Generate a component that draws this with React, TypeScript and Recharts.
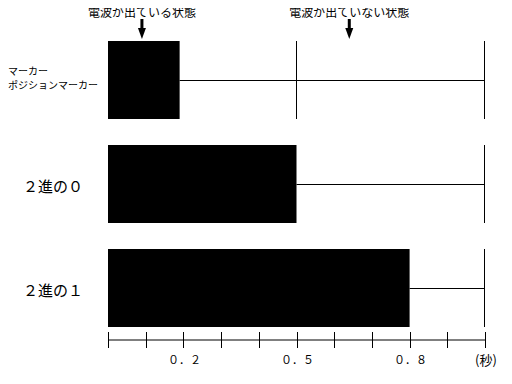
import { BarChart, Bar, XAxis, YAxis, ReferenceLine } from 'recharts';

const categories = ['マーカー\nポジションマーカー', '２進の０', '２進の１'];
const onTime = [0.19, 0.5, 0.8];
const offToHalf = [0.31, 0, 0];
const offToEnd = [0.5, 0.5, 0.2];

const xTicks = [0, 0.1, 0.2, 0.3, 0.4, 0.5, 0.6, 0.7, 0.8, 0.9, 1.0];
const labeledTicks = [0.2, 0.5, 0.8, 1.0];
const labeledTexts = ['０．２', '０．５', '０．８', '(秒)'];

const noteX = [0.09, 0.64];
const noteTexts = ['電波が出ている状態', '電波が出ていない状態'];

const FONT = '"Noto Sans CJK JP", "Noto Sans", sans-serif';

const data = categories.map((name, i) => ({
  name,
  on: onTime[i],
  offA: offToHalf[i],
  offB: offToEnd[i],
}));

// off period: thin midline + end marker
const OffShape = (props: any) => {
  const { x, y, width, height } = props;
  if (!width || width <= 0) return <g />;
  const cy = Math.round(y + height / 2) + 0.5;
  const ex = Math.round(x + width) - 0.5;
  return (
    <g>
      <line x1={x} y1={cy} x2={ex} y2={cy} stroke="#000" strokeWidth={1} />
      <line x1={ex} y1={y} x2={ex} y2={y + height} stroke="#000" strokeWidth={1} />
    </g>
  );
};

const makeArrow = (text: string) => (props: any) => {
  const x = props.x1;
  const top = Math.min(props.y1, props.y2);
  return (
    <g>
      <text x={x} y={top - 17} textAnchor="middle" dominantBaseline="central" fontSize={12} fontFamily={FONT} fill="#000">
        {text}
      </text>
      <rect x={x - 1.5} y={top - 9} width={3} height={10} fill="#000" />
      <polygon points={`${x - 4},${top} ${x + 4},${top} ${x},${top + 11}`} fill="#000" />
    </g>
  );
};

const CategoryTick = (props: any) => {
  const { x, y, payload } = props;
  const lines = String(payload.value).split('\n');
  if (lines.length > 1) {
    return (
      <text x={x - 100} y={y - 10.5} dominantBaseline="central" fontSize={10} fontFamily={FONT} fill="#000">
        {lines.map((l, i) => (
          <tspan key={i} x={x - 100} dy={i === 0 ? 0 : 14.8}>
            {l}
          </tspan>
        ))}
      </text>
    );
  }
  return (
    <text x={x - 55} y={y + 1} textAnchor="middle" dominantBaseline="central" fontSize={15} fontFamily={FONT} fill="#000">
      {lines[0]}
    </text>
  );
};

const TimeTick = (props: any) => {
  const { x, y, payload } = props;
  const idx = labeledTicks.findIndex((t) => Math.abs(t - payload.value) < 1e-9);
  const px = Math.round(x) + 0.5;
  return (
    <g>
      <line x1={px} y1={y - 8} x2={px} y2={y + 8} stroke="#000" strokeWidth={1} />
      {idx >= 0 && (
        <text x={x + 1} y={y + 19} textAnchor="middle" dominantBaseline="central" fontSize={idx === 3 ? 13 : 11} fontFamily={FONT} fill="#000">
          {labeledTexts[idx]}
        </text>
      )}
    </g>
  );
};

export default function App() {
  return (
    <div style={{ marginTop: -8 }}>
      <BarChart
        width={504}
        height={384}
        data={data}
        layout="vertical"
        margin={{ top: 28, right: 27, bottom: 0, left: 0 }}
        barCategoryGap={0}
      >
        <XAxis
          type="number"
          domain={[0, 1]}
          ticks={xTicks}
          interval={0}
          height={44}
          tickSize={0}
          tickMargin={0}
          tickLine={false}
          axisLine={{ stroke: '#000', strokeWidth: 1 }}
          tick={<TimeTick />}
        />
        <YAxis
          type="category"
          dataKey="name"
          width={100}
          tickSize={0}
          tickMargin={0}
          axisLine={false}
          tickLine={false}
          tick={<CategoryTick />}
        />
        <Bar dataKey="on" stackId="a" fill="#000" barSize={78} isAnimationActive={false} />
        <Bar dataKey="offA" stackId="a" barSize={78} shape={<OffShape />} isAnimationActive={false} />
        <Bar dataKey="offB" stackId="a" barSize={78} shape={<OffShape />} isAnimationActive={false} />
        {noteX.map((nx, i) => (
          <ReferenceLine key={i} x={nx} ifOverflow="visible" shape={makeArrow(noteTexts[i])} />
        ))}
      </BarChart>
    </div>
  );
}
